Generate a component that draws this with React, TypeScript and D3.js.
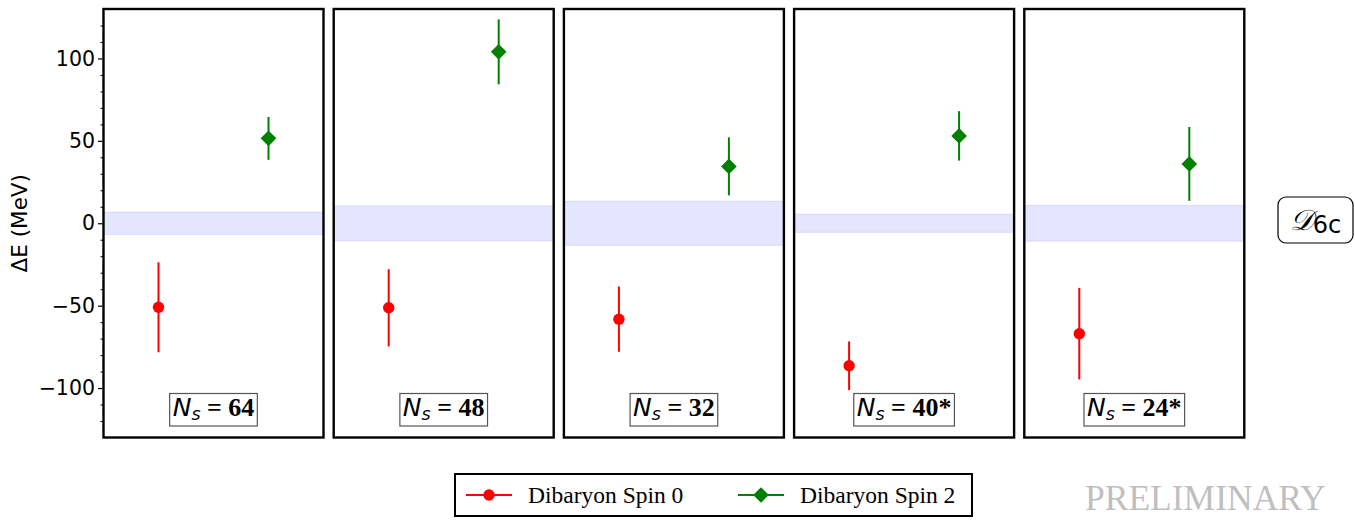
import React, { useEffect, useRef } from 'react';
import * as d3 from 'd3';

// ---- data ----
const panelLabels = ['64', '48', '32', '40*', '24*'];
const spin0Values = [-51, -51.3, -58.2, -86.5, -67];
const spin0Errors = [27.3, 23.4, 19.8, 14.8, 27.8];
const spin2Values = [51.5, 104, 34.5, 53, 36];
const spin2Errors = [13, 19.7, 17.6, 15, 22.4];
const bandHalfWidths = [6.8, 10.6, 13.4, 5.5, 10.9];
const yDomain = [-130, 130];
const yTicks = [-100, -50, 0, 50, 100];
const yMinorTicks = [-120, -110, -90, -80, -70, -60, -40, -30, -20, -10, 10, 20, 30, 40, 60, 70, 80, 90, 110, 120];
const seriesNames = ['Dibaryon Spin 0', 'Dibaryon Spin 2'];
const seriesColors = ['#ff0000', '#008000'];
const seriesX = [0.25, 0.75];

const W = 1355;
const H = 527;

export default function App() {
  const ref = useRef<SVGSVGElement>(null);

  useEffect(() => {
    const svg = d3.select(ref.current!);
    svg.selectAll('*').remove();

    const top = 9;
    const bottom = 437.5;
    const panel = d3
      .scaleBand<number>()
      .domain(d3.range(panelLabels.length))
      .range([103.5, 1244.3])
      .paddingInner(0.0443)
      .paddingOuter(0);
    const bw = panel.bandwidth();
    const y = d3.scaleLinear().domain(yDomain).range([bottom, top]);
    const xIn = d3.scaleLinear().domain([0, 1]).range([0, bw]);

    svg.append('rect').attr('width', W).attr('height', H).attr('fill', 'white');

    const series = [
      { values: spin0Values, errors: spin0Errors },
      { values: spin2Values, errors: spin2Errors },
    ];

    const diamond = (s: number) => `M0,${-s}L${s},0L0,${s}L${-s},0Z`;

    panelLabels.forEach((lab, i) => {
      const g = svg.append('g').attr('transform', `translate(${panel(i)},0)`);
      const h = bandHalfWidths[i];
      g.append('rect')
        .attr('x', 0)
        .attr('width', bw)
        .attr('y', y(h))
        .attr('height', y(-h) - y(h))
        .attr('fill', '#0000ff')
        .attr('fill-opacity', 0.1)
        .attr('stroke', '#0000ff')
        .attr('stroke-opacity', 0.1)
        .attr('stroke-width', 1);

      series.forEach((s, k) => {
        const cx = xIn(seriesX[k]);
        const v = s.values[i];
        const e = s.errors[i];
        g.append('line')
          .attr('x1', cx)
          .attr('x2', cx)
          .attr('y1', y(v + e))
          .attr('y2', y(v - e))
          .attr('stroke', seriesColors[k])
          .attr('stroke-width', 2);
        if (k === 0) {
          g.append('circle').attr('cx', cx).attr('cy', y(v)).attr('r', 5.7).attr('fill', seriesColors[k]);
        } else {
          g.append('path')
            .attr('d', diamond(7.8))
            .attr('transform', `translate(${cx},${y(v)})`)
            .attr('fill', seriesColors[k]);
        }
      });

      // N_s label
      const lg = g.append('g');
      const t = lg
        .append('text')
        .attr('x', bw / 2)
        .attr('y', 415.5)
        .attr('text-anchor', 'middle')
        .attr('font-size', 25);
      t.append('tspan').attr('font-family', 'DejaVu Sans').attr('font-style', 'oblique').text('N');
      t.append('tspan')
        .attr('font-family', 'DejaVu Sans')
        .attr('font-style', 'oblique')
        .attr('font-size', 17.5)
        .attr('dy', 4)
        .text('s');
      t.append('tspan')
        .attr('font-family', 'Liberation Serif, Times New Roman, serif')
        .attr('font-weight', 'bold')
        .attr('font-size', 26)
        .attr('dy', -4)
        .text(`\u00a0=\u00a0${lab}`);
      const bb = (t.node() as SVGTextElement).getBBox();
      lg.insert('rect', 'text')
        .attr('x', bb.x - 3)
        .attr('width', bb.width + 6)
        .attr('y', 393.5)
        .attr('height', 32.5)
        .attr('fill', 'white')
        .attr('stroke', '#555')
        .attr('stroke-width', 1.2);

      g.append('rect')
        .attr('x', 0)
        .attr('y', top)
        .attr('width', bw)
        .attr('height', bottom - top)
        .attr('fill', 'none')
        .attr('stroke', 'black')
        .attr('stroke-width', 2.4);
    });

    // y axis on first panel
    const fmt = (d: number) => (d < 0 ? '\u2212' + Math.abs(d) : String(d));
    const ax = svg
      .append('g')
      .attr('transform', `translate(${panel(0)},0)`)
      .call(
        d3
          .axisLeft(y)
          .tickValues(yTicks)
          .tickSize(5.5)
          .tickPadding(3)
          .tickFormat((d) => fmt(+d))
      );
    ax.select('.domain').remove();
    ax.selectAll('text').attr('font-family', 'DejaVu Sans').attr('font-size', 20.5).attr('fill', 'black');
    ax.selectAll('line').attr('stroke-width', 1.2);
    const axm = svg
      .append('g')
      .attr('transform', `translate(${panel(0)},0)`)
      .call(d3.axisLeft(y).tickValues(yMinorTicks).tickSize(3).tickFormat(() => ''));
    axm.select('.domain').remove();
    axm.selectAll('line').attr('stroke-width', 1);

    svg
      .append('text')
      .attr('transform', `translate(19,${(top + bottom) / 2}) rotate(-90)`)
      .attr('text-anchor', 'middle')
      .attr('dominant-baseline', 'central')
      .attr('font-family', 'DejaVu Sans')
      .attr('font-size', 21.5)
      .text('ΔE (MeV)');

    // D6c label
    svg
      .append('rect')
      .attr('x', 1278)
      .attr('y', 197)
      .attr('width', 75)
      .attr('height', 46)
      .attr('rx', 8)
      .attr('fill', 'white')
      .attr('stroke', 'black')
      .attr('stroke-width', 1.2);
    const dt = svg.append('text').attr('x', 1315.5).attr('y', 230).attr('text-anchor', 'middle');
    dt.append('tspan').attr('font-family', 'DejaVu Serif, DejaVu Sans, serif').attr('font-style', 'italic').attr('font-size', 29).text('𝒟');
    dt.append('tspan').attr('font-family', 'DejaVu Sans').attr('font-size', 24).attr('dy', 3).text('6c');

    // legend
    const legX = 455;
    const legY = 474;
    svg
      .append('rect')
      .attr('x', legX)
      .attr('y', legY)
      .attr('width', 517)
      .attr('height', 42)
      .attr('fill', 'white')
      .attr('stroke', 'black')
      .attr('stroke-width', 2);
    const itemX = [466, 738];
    seriesNames.forEach((name, k) => {
      const gx = itemX[k];
      const cy = legY + 21;
      svg
        .append('line')
        .attr('x1', gx)
        .attr('x2', gx + 46)
        .attr('y1', cy)
        .attr('y2', cy)
        .attr('stroke', seriesColors[k])
        .attr('stroke-width', 2);
      if (k === 0) {
        svg.append('circle').attr('cx', gx + 23).attr('cy', cy).attr('r', 5.7).attr('fill', seriesColors[k]);
      } else {
        svg.append('path').attr('d', diamond(7.8)).attr('transform', `translate(${gx + 23},${cy})`).attr('fill', seriesColors[k]);
      }
      svg
        .append('text')
        .attr('x', gx + 62)
        .attr('y', cy + 8)
        .attr('font-family', 'Liberation Serif, Times New Roman, serif')
        .attr('font-size', 23.5)
        .text(name);
    });

    svg
      .append('text')
      .attr('x', 1085)
      .attr('y', 510)
      .attr('font-family', 'Liberation Serif, Times New Roman, serif')
      .attr('font-size', 35.5)
      .attr('fill', '#bfbfbf')
      .text('PRELIMINARY');
  }, []);

  return (
    <svg
      ref={ref}
      width={W}
      height={H}
      style={{ position: 'absolute', left: 0, top: 0, display: 'block' }}
    />
  );
}
